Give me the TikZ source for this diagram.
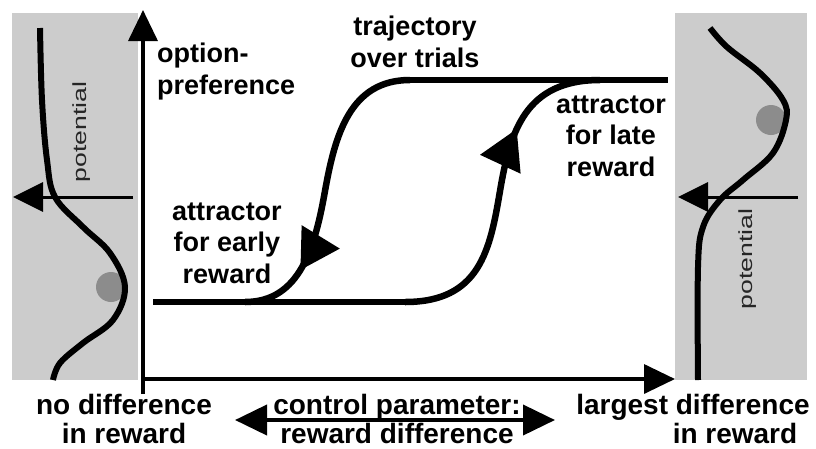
\documentclass[tikz,border=0pt]{standalone}
\usepackage{fontspec}
\setmainfont{Liberation Sans}
\setsansfont{Liberation Sans}
\usetikzlibrary{arrows.meta, positioning, decorations.markings}

\begin{document}
\begin{tikzpicture}[
    x=1pt, y=-1pt,
    lbl/.style={font=\fontsize{27}{31.5}\selectfont\bfseries, align=center, inner sep=0pt, anchor=base},
    axlbl/.style={font=\fontsize{28}{29}\selectfont\bfseries, align=center, inner sep=0pt, anchor=base},
    potlbl/.style={font=\fontsize{19}{22}\selectfont, text=black!85, rotate=90, inner sep=0pt},
    axis/.style={line width=3.5pt, -{Triangle[length=31pt, width=29pt]}},
    traj/.style={line width=6.5pt},
    pot/.style={line width=6pt},
    panel/.style={fill=black!20},
    ball/.style={circle, fill=black!45, minimum size=30pt, inner sep=0pt},
    flow/.style={postaction={decorate}, decoration={markings, mark=at position #1 with {\arrow{Triangle[length=39pt, width=43pt]}}}}
]
\useasboundingbox (0,0) rectangle (816,448);

% potential panels
\fill[panel] (12,13) rectangle (138,380);
\fill[panel] (675,13) rectangle (807,380);

\node[ball] (ballL) at (111,287) {};
\node[ball] (ballR) at (771,120) {};

\draw[pot] plot[smooth, tension=0.6] coordinates {(40,28) (42,100) (47,160) (55,197) (83,227) (110,253) (125,287) (113,320) (83,343) (60,363) (53,380)};
\draw[pot] plot[smooth, tension=0.6] coordinates {(710,28) (727,47) (760,73) (783,100) (786,120) (773,153) (743,180) (720,200) (703,227) (698,267) (698,380)};

\coordinate (potL) at (133,197);
\coordinate (potLtip) at (13,197);
\coordinate (potR) at (798,197);
\coordinate (potRtip) at (678,197);
\draw[line width=3pt, -{Triangle[length=30pt, width=29pt]}] (potL) -- (potLtip);
\draw[line width=3pt, -{Triangle[length=30pt, width=29pt]}] (potR) -- (potRtip);

\node[potlbl] (potLlbl) at (82,132) {\scalebox{1.4}[1]{potential}};
\node[potlbl] (potRlbl) at (748,259) {\scalebox{1.4}[1]{potential}};

% axes
\coordinate (O) at (141.5,379);
\coordinate (ybot) at (143,394);
\coordinate (ytop) at (143,10);
\coordinate (xend) at (675,379);
\draw[axis] (ybot) -- (ytop);
\draw[axis] (O) -- (xend);

% trajectories
\coordinate (lowstart) at (153,302);
\coordinate (lowbend) at (405,302);
\coordinate (topbend) at (410,80);
\coordinate (topend) at (668,80);
\draw[traj] (lowstart) -- (lowbend);
\draw[traj] (topbend) -- (topend);
\draw[traj, flow=0.69] (lowbend) .. controls (480,302) and (490,250) .. (500,191) .. controls (510,132) and (525,80) .. (600,80);
\draw[traj, flow=0.78] (topbend) .. controls (350,80) and (335,135) .. (325,191) .. controls (315,247) and (300,302) .. (245,302);

% labels
\node[lbl, anchor=base west, align=left] (pref) at (157,94) {option-\\preference};
\node[lbl] (trajlbl) at (415,67) {trajectory\\over trials};
\node[lbl] (late) at (611,176) {attractor\\for late\\reward};
\node[lbl] (early) at (227,283) {attractor\\for early\\reward};

\node[axlbl] (nodiff) at (124,443) {no difference\\in reward};
\node[axlbl] (ctrl) at (397,443) {control parameter:\\reward difference};
\node[axlbl] (largest) at (693,414) {largest difference};
\node[axlbl] (inrew) at (735,443) {in reward};

\coordinate (ctrlL) at (235,420);
\coordinate (ctrlR) at (555,420);
\draw[line width=4pt, {Triangle[length=32pt, width=30pt]}-{Triangle[length=32pt, width=30pt]}] (ctrlL) -- (ctrlR);
\end{tikzpicture}
\end{document}
